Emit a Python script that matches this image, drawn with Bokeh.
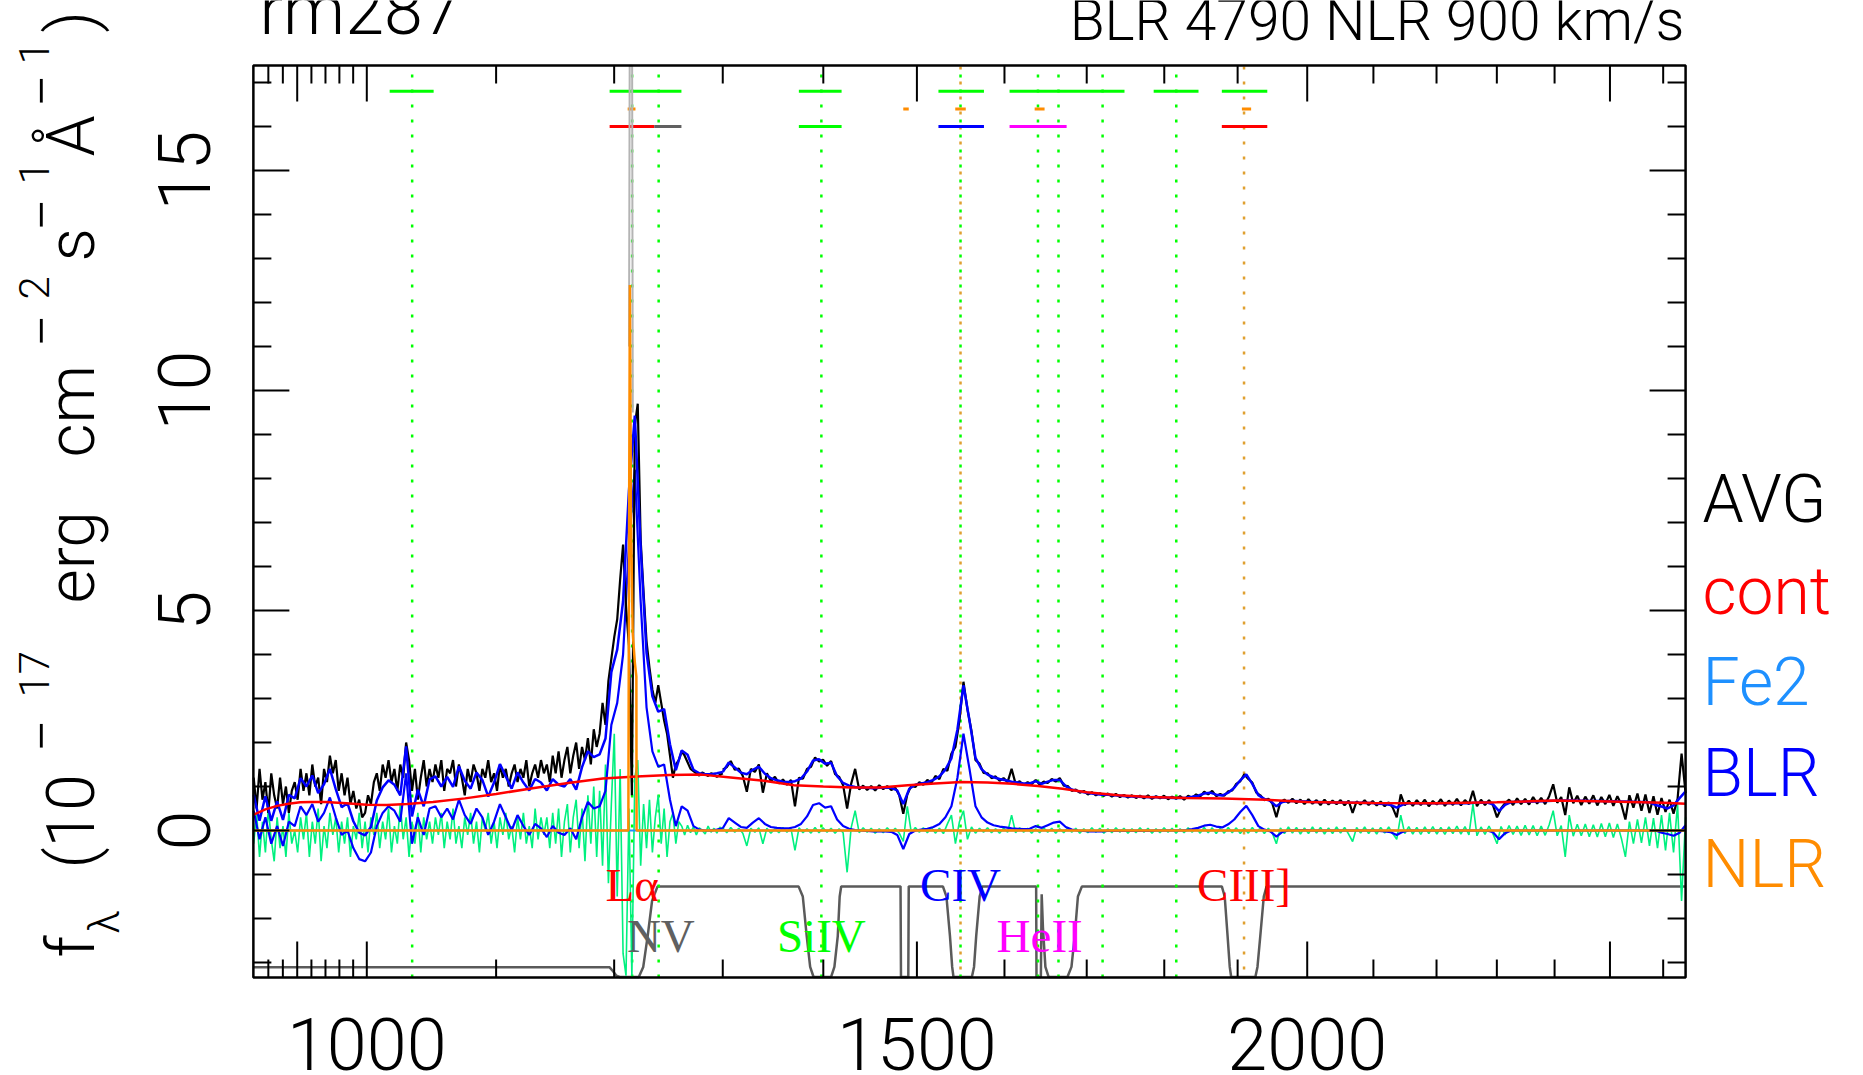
import numpy as np
from math import pi
from bokeh.plotting import figure
from bokeh.models import ColumnDataSource
from bokeh.core.properties import value
from bokeh.embed import file_html
from bokeh.resources import INLINE

# ---------------- data ----------------
wave_a = np.geomspace(920, 1300, 161)        # pixel sampling, blue part
wave_b = np.geomspace(1300, 2643.3, 241)     # pixel sampling, red part
wave_blue_a = np.geomspace(920, 1300, 81)    # model sampling, blue part
wave_blue_b = np.geomspace(1300, 2643.3, 161)  # model sampling, red part

avg_a = [1.2, 0.5, 1.4, 0.7, 1.1, 0.4, 1.3, 0.8, 0.5, 1.2, 0.6, 1.0, 0.4, 0.9, 1.1,
         0.7, 1.4, 0.9, 1.3, 0.8, 1.5, 1.0, 1.2, 0.6, 1.4, 1.1, 1.7, 1.3, 1.6, 0.9, 1.3,
         0.8, 1.2, 0.6, 0.9, 0.5, 0.7, 0.3, 0.4, 0.8, 0.6, 1.1,
         1.3, 0.9, 1.5, 1.2, 1.6, 1.1, 1.4, 0.9, 1.5, 1.2, 2.0, 1.6, 0.9,
         1.4, 0.7, 1.2, 1.6, 1.0, 1.4,
         1.1, 1.5, 1.2, 1.6, 0.9, 1.4, 1.3, 1.6, 1.0, 1.5, 1.2, 0.8, 1.4, 1.1, 1.5, 1.3,
         0.9, 1.4, 1.2, 1.6, 1.1, 1.3, 0.9, 1.5, 1.2, 1.4, 1.0, 1.3, 1.5, 1.1, 1.4, 1.2,
         1.6, 1.0, 1.3, 1.5, 1.2, 1.6, 1.3,
         1.5, 1.1, 1.7, 1.3, 1.8, 1.2, 1.6, 1.9, 1.3, 1.7, 2.0, 1.4, 1.9, 1.6, 2.1, 1.5,
         2.3, 1.9,
         2.2, 2.9, 2.4, 3.4, 3.9, 4.4, 4.8, 5.7, 6.5, 5.1, 4.2, 0.8, 9.2, 9.7, 6.6, 5.4,
         4.3, 3.7, 3.2, 2.9, 3.3, 2.9, 2.5, 2.2, 1.7, 1.2, 1.5, 1.6, 1.8, 1.7, 1.55, 1.4,
         1.35,
         1.3, 1.25, 1.32, 1.28, 1.24, 1.3, 1.27, 1.22, 1.26, 1.3]
avg_b = [1.38, 1.44, 1.58, 1.38, 1.41, 1.24, 0.88, 1.40, 1.33, 1.50,
         0.86, 1.30, 1.12, 1.22, 1.07, 1.16, 1.04, 1.15, 0.55, 1.20,
         1.18, 1.40, 1.45, 1.66, 1.57, 1.61, 1.47, 1.58, 1.28, 1.22,
         1.03, 0.50, 1.06, 1.40, 0.93, 1.02, 0.92, 1.01, 0.91, 1.03,
         0.94, 1.01, 0.92, 0.97, 0.80, 0.38, 0.82, 1.02, 0.99, 1.10,
         1.04, 1.15, 1.08, 1.24, 1.17, 1.40, 1.36, 1.75, 1.90, 2.50,
         3.38, 2.75, 2.26, 1.60, 1.52, 1.31, 1.30, 1.19, 1.23, 1.13,
         1.19, 1.10, 1.40, 1.06, 1.12, 1.03, 1.10, 1.05, 1.15, 1.04,
         1.11, 1.08, 1.17, 1.11, 1.19, 1.02, 1.01, 0.90, 0.93, 0.86,
         0.90, 0.82, 0.87, 0.80, 0.85, 0.79, 0.84, 0.77, 0.83, 0.76,
         0.81, 0.75, 0.80, 0.74, 0.79, 0.73, 0.80, 0.72, 0.78, 0.73,
         0.79, 0.71, 0.77, 0.72, 0.78, 0.70, 0.79, 0.74, 0.82, 0.77,
         0.88, 0.82, 0.90, 0.78, 0.83, 0.79, 0.89, 0.91, 1.06, 1.12,
         1.28, 1.17, 1.09, 0.86, 0.80, 0.69, 0.72, 0.61, 0.30, 0.65,
         0.70, 0.63, 0.72, 0.62, 0.70, 0.60, 0.71, 0.61, 0.69, 0.58,
         0.70, 0.59, 0.68, 0.60, 0.69, 0.57, 0.68, 0.40, 0.66, 0.59,
         0.69, 0.58, 0.67, 0.57, 0.66, 0.55, 0.64, 0.52, 0.30, 0.82,
         0.57, 0.68, 0.56, 0.69, 0.58, 0.70, 0.55, 0.67, 0.59, 0.71,
         0.56, 0.68, 0.58, 0.72, 0.57, 0.69, 0.60, 0.90, 0.55, 0.70,
         0.58, 0.69, 0.57, 0.30, 0.50, 0.62, 0.70, 0.58, 0.73, 0.60,
         0.72, 0.59, 0.76, 0.61, 0.74, 0.60, 0.78, 1.05, 0.63, 0.76,
         0.35, 0.98, 0.62, 0.79, 0.58, 0.77, 0.61, 0.80, 0.57, 0.76,
         0.60, 0.81, 0.56, 0.78, 0.59, 0.25, 0.80, 0.52, 0.84, 0.45,
         0.82, 0.40, 0.78, 0.36, 0.74, 0.42, 0.70, 0.38, 0.72, 1.75,
         0.85]

resid_a = [-0.3, 0.4, -0.6, 0.2, -0.5, 0.5, -0.2, -0.7, 0.3, -0.4, 0.1, -0.6, 0.4, -0.3, 0.0,
           -0.5, 0.3, -0.2, 0.4, -0.6, 0.2, -0.3, 0.5, -0.7, 0.1, -0.4, 0.4, -0.1, 0.3, -0.5, 0.2,
           -0.3, 0.3, -0.6, 0.1, -0.2, 0.4, -0.4, 0.2, -0.5, 0.3, -0.1,
           0.4, -0.4, 0.2, -0.2, 0.5, -0.5, 0.1, -0.3, 0.6, -0.2, 0.3, -0.6, 0.2,
           -0.3, 0.4, -0.5, 0.3, -0.2, 0.2,
           -0.3, 0.3, -0.1, 0.4, -0.4, 0.2, -0.2, 0.5, -0.3, 0.1, -0.4, 0.3, -0.1, 0.4, -0.3,
           0.2, -0.5, 0.3, 0.0, 0.4, -0.3, 0.2, -0.4, 0.3, -0.1, 0.4, -0.2, 0.1, -0.5, 0.3,
           -0.2, 0.4, -0.3, 0.1, -0.4, 0.5, -0.2, 0.3, -0.1,
           0.3, -0.4, 0.4, -0.3, 0.5, -0.6, 0.2, 0.6, -0.5, 0.3, 0.7, -0.4, 0.5, -0.7, 0.8,
           -0.3, 1.0, -0.6,
           0.9, -0.8, 1.5, -1.2, 0.6, 2.2, -1.5, 1.4, -2.8, -3.3, 0.5, -3.3, 1.2, 1.6, -0.8,
           0.6, -0.4, 0.7,
           -0.5, 0.3, 0.8, -0.3, 0.5, -0.6, 0.2, 0.4, -0.3, 0.2,
           0.1, -0.1, 0.12, -0.05, 0.08, -0.1, 0.06, 0.0, -0.08, 0.1, -0.04, 0.05, -0.06,
           0.08, 0.02]
resid_b = [0.06, -0.05, 0.07, -0.04, 0.05, -0.06, -0.35, 0.05, -0.04, 0.06,
           -0.3, 0.05, -0.06, 0.04, -0.05, 0.07, -0.04, 0.05, -0.45, 0.06,
           -0.05, 0.04, -0.06, 0.07, -0.05, 0.06, -0.04, 0.05, -0.06, 0.04,
           -0.05, -0.95, 0.06, 0.45, -0.05, 0.06, -0.04, 0.05, -0.06, 0.04,
           -0.05, 0.06, -0.04, 0.05, -0.06, -0.25, 0.55, -0.05, 0.07, -0.04,
           0.06, -0.05, 0.07, -0.06, 0.05, -0.07, 0.15, 0.35, -0.3, 0.2,
           0.45, -0.2, 0.08, -0.06, 0.05, -0.04, 0.06, -0.05, 0.04, -0.06,
           0.05, -0.04, 0.35, -0.05, 0.06, -0.04, 0.05, -0.06, 0.04, -0.05,
           0.06, -0.04, 0.05, -0.06, 0.04, -0.05, 0.06, -0.04, 0.05, -0.06,
           0.04, -0.05, 0.06, -0.04, 0.05, -0.06, 0.04, -0.05, 0.06, -0.04,
           0.05, -0.06, 0.04, -0.05, 0.06, -0.04, 0.05, -0.06, 0.04, -0.05,
           0.06, -0.04, 0.05, -0.06, 0.04, -0.05, 0.06, -0.04, 0.05, -0.06,
           0.07, -0.05, 0.06, -0.07, 0.05, -0.06, 0.07, -0.05, 0.06, -0.07,
           0.05, -0.06, 0.07, -0.05, 0.06, -0.07, 0.05, -0.06, -0.3, 0.06,
           -0.07, 0.08, -0.06, 0.07, -0.08, 0.06, -0.07, 0.08, -0.06, 0.07,
           -0.08, 0.06, -0.07, 0.08, -0.06, 0.07, -0.08, -0.25, 0.07, -0.06,
           0.08, -0.07, 0.06, -0.08, 0.07, -0.06, 0.08, -0.07, -0.2, 0.35,
           -0.07, 0.09, -0.08, 0.07, -0.09, 0.08, -0.07, 0.09, -0.08, 0.07,
           -0.09, 0.08, -0.07, 0.1, -0.08, 0.09, -0.1, 0.6, -0.12, 0.08,
           -0.09, 0.1, -0.08, -0.3, 0.09, -0.1, 0.11, -0.09, 0.1, -0.11,
           0.12, -0.1, 0.11, -0.12, 0.1, -0.11, 0.13, 0.45, -0.12, 0.11,
           -0.6, 0.35, -0.13, 0.14, -0.12, 0.15, -0.14, 0.13, -0.15, 0.16,
           -0.14, 0.17, -0.16, 0.15, -0.18, -0.6, 0.2, -0.3, 0.25, -0.28,
           0.3, -0.35, 0.28, -0.4, 0.35, -0.45, 0.4, -0.5, 0.6, -1.6,
           0.3]

blr_a = [0.45, -0.2, 0.3, -0.3, 0.1, -0.35, 0.2, 0.1, 0.55, 0.35,
         0.6, 0.2, 0.4, 0.75, 0.3, -0.1, 0.0, -0.4, -0.65, -0.7,
         -0.5, 0.1, 0.4, 0.55, 0.45, 0.2, 1.3, -0.3, 0.3, -0.1,
         0.5, 0.55, 0.3, 0.5, 0.25, 0.7, 0.35, 0.15, 0.5, 0.3,
         -0.1, 0.2, 0.6, 0.3, 0.0, 0.35, 0.1, -0.1, 0.15, 0.05,
         -0.15, 0.1, -0.05, -0.1, 0.05, -0.2, 0.3, 0.65, 0.5, 0.55,
         0.9, 2.4, 2.9, 4.0, 6.5, 8.2, 5.2, 2.8, 1.8, 1.45,
         1.5, 0.7, 0.1, 0.55, 0.45, 0.1, 0.02, 0.0, 0.0, 0.02, 0.05]
blr_b = [0.05, 0.28, 0.18, 0.08, 0.06, 0.18, 0.28, 0.15, 0.08, 0.06, 0.05, 0.05, 0.08,
         0.15, 0.32, 0.58, 0.62, 0.52, 0.55, 0.25, 0.10, 0.04, 0.01, 0.0, -0.01, -0.02,
         -0.02, -0.02, -0.03, -0.10, -0.42, -0.08, 0.0, 0.02, 0.04, 0.08, 0.15, 0.30,
         0.55, 1.20, 2.20, 1.40, 0.55, 0.30, 0.18, 0.12, 0.09, 0.07, 0.05, 0.04, 0.03,
         0.04, 0.10, 0.06, 0.12, 0.18, 0.20, 0.08, 0.02, 0.0, -0.01, -0.02, -0.02, -0.02,
         -0.01, -0.01, -0.01, -0.01, -0.01, -0.01, -0.01, -0.01, 0.0, 0.0, 0.0, 0.0, 0.0,
         0.01, 0.03, 0.06, 0.11, 0.13, 0.09, 0.07, 0.14, 0.25, 0.42, 0.56, 0.35, 0.10,
         0.02, -0.02, -0.14, -0.03, 0.0, 0.01, 0.01, 0.01, 0.0, 0.0, 0.0, 0.0, 0.0, 0.0,
         0.0, 0.0, 0.0, 0.0, 0.0, -0.01, -0.02, -0.04, -0.10, -0.03, 0.0, 0.0, 0.0, 0.0,
         0.0, 0.0, 0.0, 0.0, 0.0, 0.0, 0.0, 0.0, 0.0, 0.0, -0.04, -0.20, -0.06, 0.0, 0.0,
         0.0, 0.0, 0.0, 0.0, 0.0, 0.0, 0.0, 0.0, 0.0, 0.0, 0.0, 0.0, 0.0, 0.0, 0.0, 0.0,
         0.0, 0.0, 0.0, 0.0, 0.0, 0.0, 0.0, -0.05, -0.08, -0.12, -0.05, 0.12, 0.28]

model_a = [0.81, 0.22, 0.78, 0.22, 0.66, 0.24, 0.81, 0.73, 1.19, 1.00,
           1.25, 0.85, 1.05, 1.40, 0.94, 0.53, 0.62, 0.21, -0.05, -0.11,
           0.08, 0.68, 0.98, 1.14, 1.04, 0.80, 1.91, 0.32, 0.93, 0.55,
           1.16, 1.23, 1.00, 1.22, 0.99, 1.46, 1.13, 0.95, 1.32, 1.15,
           0.77, 1.09, 1.51, 1.23, 0.95, 1.32, 1.09, 0.91, 1.17, 1.09,
           0.91, 1.17, 1.04, 1.00, 1.17, 0.93, 1.44, 1.80, 1.67, 1.73,
           2.09, 3.60, 4.11, 5.21, 7.72, 9.43, 6.43, 4.04, 3.05, 2.70,
           2.76, 1.96, 1.37, 1.82, 1.72, 1.38, 1.30, 1.28, 1.28, 1.30, 1.33]
model_b = [1.33, 1.545, 1.43, 1.315, 1.28, 1.38, 1.45, 1.29, 1.19, 1.14, 1.11, 1.10, 1.12,
           1.18, 1.34, 1.59, 1.62, 1.515, 1.54, 1.235, 1.08, 1.02, 0.99, 0.98, 0.97, 0.96,
           0.97, 0.97, 0.97, 0.91, 0.60, 0.95, 1.04, 1.07, 1.10, 1.15, 1.23, 1.385, 1.64,
           2.295, 3.30, 2.50, 1.65, 1.395, 1.27, 1.21, 1.17, 1.14, 1.11, 1.09, 1.07, 1.07,
           1.12, 1.06, 1.11, 1.15, 1.15, 1.01, 0.93, 0.895, 0.87, 0.845, 0.83, 0.815, 0.81,
           0.80, 0.79, 0.78, 0.775, 0.765, 0.76, 0.755, 0.76, 0.75, 0.745, 0.74, 0.74, 0.745,
           0.765, 0.79, 0.84, 0.86, 0.815, 0.795, 0.86, 0.97, 1.14, 1.275, 1.06, 0.805, 0.72,
           0.675, 0.55, 0.65, 0.67, 0.67, 0.665, 0.66, 0.645, 0.645, 0.64, 0.64, 0.635,
           0.635, 0.63, 0.63, 0.63, 0.625, 0.625, 0.61, 0.60, 0.58, 0.52, 0.59, 0.62, 0.62,
           0.62, 0.62, 0.62, 0.62, 0.62, 0.62, 0.62, 0.62, 0.62, 0.63, 0.63, 0.635, 0.595,
           0.44, 0.58, 0.645, 0.65, 0.655, 0.655, 0.66, 0.665, 0.67, 0.675, 0.675, 0.68,
           0.68, 0.675, 0.675, 0.67, 0.67, 0.67, 0.665, 0.665, 0.66, 0.66, 0.655, 0.65,
           0.645, 0.64, 0.58, 0.545, 0.50, 0.57, 0.735, 0.89]

cont_wave = [920, 928, 936, 944, 952, 960, 970, 985, 1000, 1015, 1030, 1050, 1075, 1100,
             1130, 1160, 1190, 1220, 1250, 1280, 1310, 1340, 1370, 1400, 1430, 1460, 1490,
             1520, 1550, 1580, 1610, 1640, 1670, 1700, 1740, 1780, 1830, 1880, 1940, 2000,
             2100, 2200, 2300, 2400, 2500, 2600, 2643.3]
cont_flux = [0.36, 0.48, 0.56, 0.61, 0.64, 0.65, 0.65, 0.62, 0.585, 0.58, 0.60, 0.65, 0.73,
             0.83, 0.96, 1.08, 1.18, 1.23, 1.26, 1.27, 1.20, 1.13, 1.03, 1.00, 0.98, 0.98,
             1.03, 1.07, 1.10, 1.09, 1.06, 1.01, 0.95, 0.87, 0.80, 0.76, 0.74, 0.73, 0.70,
             0.645, 0.625, 0.62, 0.64, 0.68, 0.66, 0.63, 0.61]

fe2_wave = [920, 2643.3]
fe2_flux = [0.0, 0.0]

nlr_wave = [920, 1212.6, 1213.4, 1214.0, 1215.0, 1216.5, 1218.5, 1219.8, 1220.0, 2643.3]
nlr_flux = [0.0, 0.0, 8.0, 12.4, 7.0, 4.5, 3.8, 3.5, 0.0, 0.0]

# narrow Ly-alpha template (runs off the top of the panel)
spike_wave = [1213.2, 1213.8, 1216.0, 1216.6]
spike_flux = [11.0, 17.38, 17.38, 9.5]

mask_wave = [920, 1196, 1199, 1202, 1205, 1222, 1226, 1230, 1234, 1239,
             1374.7, 1379, 1383, 1386.5, 1390, 1408, 1411.5, 1415, 1417, 1418.6,
             1482, 1482.5, 1490.5, 1491,
             1529, 1533, 1537, 1539.5, 1541, 1562, 1564.5, 1567, 1571, 1574,
             1637.8, 1638.2, 1643.5, 1644.5, 1646, 1649, 1653, 1676, 1681, 1685, 1689, 1694,
             1878, 1882, 1886, 1889, 1891, 1925, 1928, 1932, 1937, 1941, 2643.3]
mask_flux = [-3.11, -3.11, -3.2, -3.3, -3.33, -3.33, -3.1, -2.4, -1.6, -1.27,
             -1.27, -1.5, -2.4, -3.1, -3.33, -3.33, -3.1, -2.4, -1.5, -1.27,
             -1.27, -3.33, -3.33, -1.27,
             -1.27, -1.5, -2.4, -3.1, -3.33, -3.33, -3.1, -2.4, -1.5, -1.27,
             -1.27, -3.33, -3.33, -1.45, -2.2, -3.1, -3.33, -3.33, -3.1, -2.4, -1.5, -1.27,
             -1.27, -1.5, -2.4, -3.1, -3.33, -3.33, -3.1, -2.4, -1.5, -1.27, -1.27]

green_lines = [1034, 1216, 1240, 1398, 1549, 1640, 1665, 1720, 1816]
orange_lines = [1549, 1909]

bar_start = [1017, 1196, 1375, 1524, 1606, 1786, 1878,
             1212, 1485, 1543, 1636, 1906,
             1196, 1236, 1375, 1524, 1606, 1878]
bar_end = [1050.5, 1261, 1419, 1576, 1748, 1846, 1942,
           1219, 1491, 1555, 1648, 1919,
           1236, 1261, 1419, 1576, 1675, 1942]
bar_row = [16.8] * 7 + [16.4] * 5 + [16.0] * 6
bar_color = ["#00ff00"] * 7 + ["#ff8c00"] * 5 + \
            ["#ff0000", "#606060", "#00ff00", "#0000ff", "#ff00ff", "#ff0000"]

line_names = ["L\u03b1", "NV", "SiIV", "CIV", "HeII", "CIII]"]
line_wave = [1216, 1242, 1398, 1549, 1642, 1909]
line_level = [-1.59, -2.75, -2.75, -1.59, -2.75, -1.59]
line_color = ["#ff0000", "#606060", "#00ff00", "#0000ff", "#ff00ff", "#ff0000"]

legend_names = ["AVG", "cont", "Fe2", "BLR", "NLR"]
legend_colors = ["black", "#ff0000", "#1e90ff", "#0000ff", "#ff8c00"]

# axes: panel limits, ticks, tick labels
x_limits = (919.8, 2643.3)
y_limits = (-3.341, 17.386)
x_major = [950, 1000, 1500, 2000, 2500]
x_minor = [930, 940, 960, 970, 980, 990, 1100, 1200, 1300, 1400, 1600, 1700, 1800, 1900,
           2100, 2200, 2300, 2400, 2600]
x_labels = ["1000", "1500", "2000"]
x_label_vals = [1000, 1500, 2000]
y_major = [0, 5, 10, 15]
y_minor = [-3, -2, -1, 1, 2, 3, 4, 6, 7, 8, 9, 11, 12, 13, 14, 16, 17]
y_labels = ["0", "5", "10", "15"]

# ---------------- figure ----------------
FONT = "Roboto Light, DejaVu Sans"
SERIF = "Liberation Serif"
W, H = 1862, 1074
PX_PER_DEC = 3124.0     # log-x scale of the panel
PX_PER_UNIT = 44.0      # y scale of the panel
BASE = 0.33             # renderer places the alphabetic baseline ~0.33 em low


def px_to_wave(px):
    return 10 ** (3 + (px - 366.3) / PX_PER_DEC)


def py_to_flux(py):
    return (830.0 - py) / PX_PER_UNIT


def ty(py, size):       # baseline position for horizontal text
    return py_to_flux(py - BASE * size)


def tx(px, size):       # baseline position for text reading upwards
    return px_to_wave(px - BASE * size)


p = figure(width=W, height=H, x_axis_type="log",
           x_range=(px_to_wave(0), px_to_wave(W)), y_range=(py_to_flux(H), py_to_flux(0)),
           x_axis_location=None, y_axis_location=None, title=None,
           output_backend="svg", toolbar_location=None,
           min_border_left=0, min_border_right=0, min_border_top=0, min_border_bottom=0)
p.grid.visible = False
p.outline_line_color = None
p.background_fill_color = "white"
p.border_fill_color = "white"

x0, x1 = x_limits
y0, y1 = y_limits

# fitting mask
p.line(mask_wave, mask_flux, line_color="#5a5a5a", line_width=2.5)

# dotted line markers
p.segment(x0=green_lines, x1=green_lines, y0=[y0] * len(green_lines), y1=[y1] * len(green_lines),
          line_color="#00ff00", line_width=2.5, line_dash="3 12")
p.segment(x0=orange_lines, x1=orange_lines, y0=[y0] * len(orange_lines),
          y1=[y1] * len(orange_lines), line_color="#e0a030", line_width=2.5,
          line_dash="3 12", line_dash_offset=7)

# window bars
p.segment(x0=bar_start, y0=bar_row, x1=bar_end, y1=bar_row, line_color=bar_color,
          line_width=3)

# spectra
p.line(wave_a, resid_a, line_color="#00f07f", line_width=1.6)
p.line(wave_b, resid_b, line_color="#00f07f", line_width=1.6)
p.line(fe2_wave, fe2_flux, line_color="#1e90ff", line_width=2)
p.line(wave_blue_a, blr_a, line_color="#0000ff", line_width=2.2)
p.line(wave_blue_b, blr_b, line_color="#0000ff", line_width=2.2)
p.line(wave_a, avg_a, line_color="black", line_width=2.2)
p.line(wave_b, avg_b, line_color="black", line_width=2.2)
p.line(wave_blue_a, model_a, line_color="#0000ff", line_width=2.5)
p.line(wave_blue_b, model_b, line_color="#0000ff", line_width=2.5)
p.line(cont_wave, cont_flux, line_color="#ff0000", line_width=2.5)
p.line(spike_wave, spike_flux, line_color="#b4b4b4", line_width=2)
p.line(nlr_wave, nlr_flux, line_color="#ff8c00", line_width=2.5)

# line names (shifted so the baseline lands where the reference has it)
LS = 47
p.text(x=line_wave, y=[v + BASE * LS / PX_PER_UNIT for v in line_level], text=line_names,
       text_color=line_color, text_font=value(SERIF), text_font_size=f"{LS}px",
       text_align="center", text_baseline="alphabetic")

# panel frame and inward ticks on all four sides
p.quad(left=[x0], right=[x1], bottom=[y0], top=[y1], fill_color=None,
       line_color="black", line_width=2.5)
TMAJ, TMIN = 36.0, 18.0   # tick lengths in pixels
for ticks, tl in ((x_major, TMAJ), (x_minor, TMIN)):
    n = len(ticks)
    p.segment(x0=ticks, x1=ticks, y0=[y0] * n, y1=[y0 + tl / PX_PER_UNIT] * n,
              line_color="black", line_width=2)
    p.segment(x0=ticks, x1=ticks, y0=[y1] * n, y1=[y1 - tl / PX_PER_UNIT] * n,
              line_color="black", line_width=2)
for ticks, tl in ((y_major, TMAJ), (y_minor, TMIN)):
    n = len(ticks)
    p.segment(x0=[x0] * n, x1=[x0 * 10 ** (tl / PX_PER_DEC)] * n, y0=ticks, y1=ticks,
              line_color="black", line_width=2)
    p.segment(x0=[x1] * n, x1=[x1 / 10 ** (tl / PX_PER_DEC)] * n, y0=ticks, y1=ticks,
              line_color="black", line_width=2)

# tick labels
TS = 72
p.text(x=x_label_vals, y=[ty(1067, TS)] * len(x_labels), text=x_labels,
       text_font=value(FONT), text_font_size=f"{TS}px", text_color="black",
       text_align="center", text_baseline="alphabetic")
p.text(x=[tx(207, TS)] * len(y_labels), y=y_major, text=y_labels, angle=pi / 2,
       text_font=value(FONT), text_font_size=f"{TS}px", text_color="black",
       text_align="center", text_baseline="alphabetic")

# titles
p.text(x=[px_to_wave(259)], y=[ty(33, 70)], text=["rm287"], text_font=value(FONT),
       text_font_size="70px", text_color="black", text_align="left",
       text_baseline="alphabetic")
p.text(x=[px_to_wave(1684)], y=[ty(39, 57)], text=["BLR 4790 NLR 900 km/s"],
       text_font=value(FONT), text_font_size="57px", text_color="black",
       text_align="right", text_baseline="alphabetic")

# legend
GS = 66
p.text(x=[px_to_wave(1702)] * len(legend_names),
       y=[ty(521 + 91.3 * i, GS) for i in range(len(legend_names))],
       text=legend_names, text_color=legend_colors, text_font=value(FONT),
       text_font_size=f"{GS}px", text_align="left", text_baseline="alphabetic")

# y-axis title, piece by piece (sub/superscripts)
MS, SS, NS = 66, 42, 58
main_x, sup_x, sub_x, neg_x = tx(93, MS), tx(47, SS), tx(118, SS), tx(60, NS)
yl = ColumnDataSource(dict(
    text=["f", "\u03bb", "(10", "\u2212", "17", "erg", "cm", "\u2212", "2", "s",
          "\u2212", "1", "\u00c5", "\u2212", "1", ")"],
    x=[main_x, sub_x, main_x, neg_x, sup_x, main_x, main_x, neg_x, sup_x, main_x,
       neg_x, sup_x, main_x, neg_x, sup_x, main_x],
    y=[py_to_flux(v) for v in (957, 933, 868, 752, 697, 603, 457, 347, 299, 261,
                                231, 184, 156, 107, 64, 32)],
    size=[f"{s}px" for s in (MS, SS, MS, NS, SS, MS, MS, NS, SS, MS, NS, SS, MS, NS, SS, MS)],
))
p.text(x="x", y="y", text="text", source=yl, angle=pi / 2, text_font=value(FONT),
       text_font_size="size", text_color="black", text_align="left",
       text_baseline="alphabetic")

open("out.html", "w").write(file_html(p, INLINE))
